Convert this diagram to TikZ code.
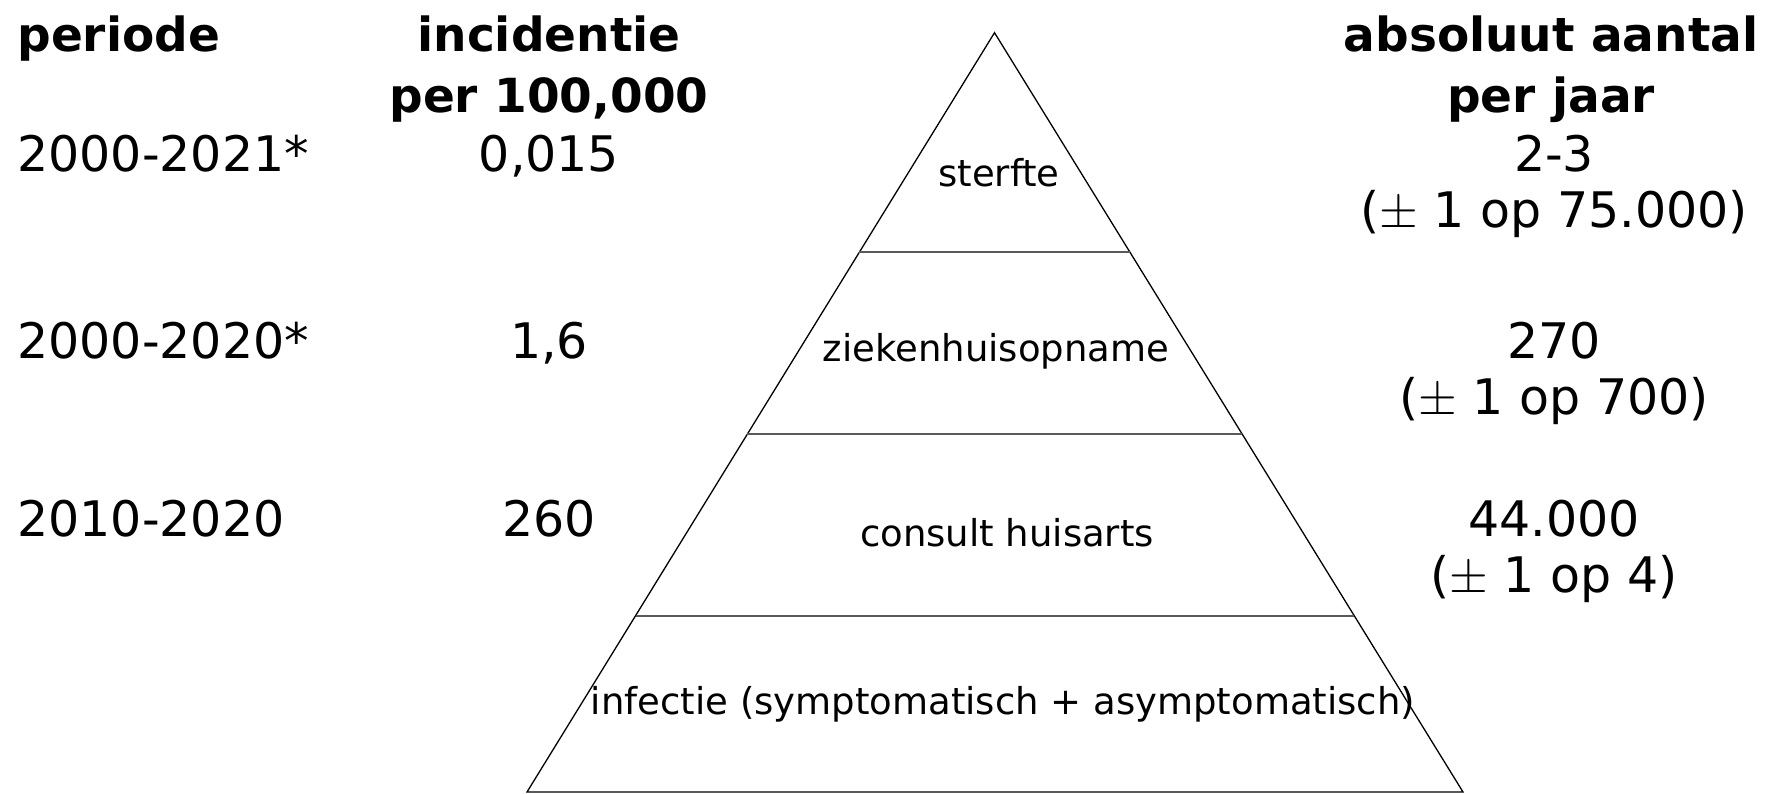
\documentclass[tikz,border=0pt]{standalone}
\usepackage{fontspec}
\setmainfont{DejaVu Sans}
\usepackage{tikz}

\begin{document}
\begin{tikzpicture}[x=0.5pt,y=-0.5pt,inner sep=0pt,
  head node/.style={font=\bfseries\fontsize{23.5}{28}\selectfont,anchor=base},
  value node/.style={font=\fontsize{24.5}{29}\selectfont,anchor=base},
  layer node/.style={font=\fontsize{18.5}{22}\selectfont,anchor=base},
  layer line/.style={draw=black!65,line width=1pt}]

  \useasboundingbox (0,0) rectangle (1766,793);

  % headers
  \node[head node,anchor=base west] (periode) at (17,51) {periode};
  \node[head node] (incid1) at (549,51) {incidentie};
  \node[head node] (incid2) at (549,112) {per 100,000};
  \node[head node] (abs1) at (1551,51) {absoluut aantal};
  \node[head node] (abs2) at (1551,112) {per jaar};

  % rows
  \node[value node,anchor=base west] (p1) at (17,171) {2000-2021*};
  \node[value node] (i1) at (549,171) {0,015};
  \node[value node] (a1) at (1554,171) {2-3};
  \node[value node] (r1) at (1554,227) {($\pm$ 1 op 75.000)};

  \node[value node,anchor=base west] (p2) at (17,358) {2000-2020*};
  \node[value node] (i2) at (549,358) {1,6};
  \node[value node] (a2) at (1554,358) {270};
  \node[value node] (r2) at (1554,414) {($\pm$ 1 op 700)};

  \node[value node,anchor=base west] (p3) at (17,536) {2010-2020};
  \node[value node] (i3) at (549,536) {260};
  \node[value node] (a3) at (1554,536) {44.000};
  \node[value node] (r3) at (1554,592) {($\pm$ 1 op 4)};

  % pyramid
  \coordinate (top) at (994.5,32.7);
  \coordinate (bl) at (527,792);
  \coordinate (br) at (1463,792);
  \draw[line width=0.65pt] (top) -- (bl) -- (br) -- cycle;

  \path (top) -- (bl) coordinate[pos=0.289] (l1) coordinate[pos=0.5287] (l2)
                      coordinate[pos=0.7679] (l3);
  \path (top) -- (br) coordinate[pos=0.289] (r1) coordinate[pos=0.5287] (r2)
                      coordinate[pos=0.7679] (r3);
  \draw[layer line] (l1) -- (r1);
  \draw[layer line] (l2) -- (r2);
  \draw[layer line] (l3) -- (r3);

  \node[layer node] (sterfte) at (999,186) {sterfte};
  \node[layer node] (opname) at (996,361) {ziekenhuisopname};
  \node[layer node] (consult) at (1007,546) {consult huisarts};
  \node[layer node] (infectie) at (1003,714) {infectie (symptomatisch + asymptomatisch)};

\end{tikzpicture}
\end{document}
